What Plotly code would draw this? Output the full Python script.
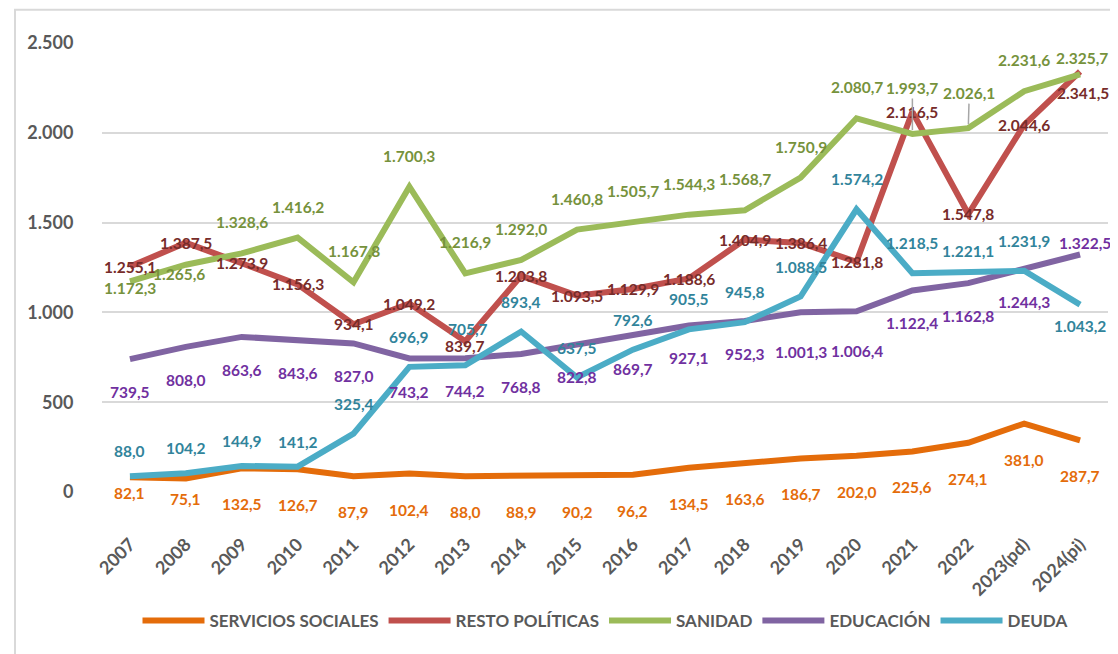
import plotly.graph_objects as go

years = ["2007", "2008", "2009", "2010", "2011", "2012", "2013", "2014", "2015",
         "2016", "2017", "2018", "2019", "2020", "2021", "2022", "2023(pd)", "2024(pi)"]

servicios_sociales = [82.1, 75.1, 132.5, 126.7, 87.9, 102.4, 88.0, 88.9, 90.2,
                      96.2, 134.5, 163.6, 186.7, 202.0, 225.6, 274.1, 381.0, 287.7]
resto_politicas = [1255.1, 1387.5, 1273.9, 1156.3, 934.1, 1049.2, 839.7, 1203.8, 1093.5,
                   1129.9, 1188.6, 1404.9, 1386.4, 1281.8, 2116.5, 1547.8, 2044.6, 2341.5]
sanidad = [1172.3, 1265.6, 1328.6, 1416.2, 1167.8, 1700.3, 1216.9, 1292.0, 1460.8,
           1505.7, 1544.3, 1568.7, 1750.9, 2080.7, 1993.7, 2026.1, 2231.6, 2325.7]
educacion = [739.5, 808.0, 863.6, 843.6, 827.0, 743.2, 744.2, 768.8, 822.8,
             869.7, 927.1, 952.3, 1001.3, 1006.4, 1122.4, 1162.8, 1244.3, 1322.5]
deuda = [88.0, 104.2, 144.9, 141.2, 325.4, 696.9, 705.7, 893.4, 637.5,
         792.6, 905.5, 945.8, 1088.5, 1574.2, 1218.5, 1221.1, 1231.9, 1043.2]

y_ticks = [0, 500, 1000, 1500, 2000, 2500]

FONT = "Lato"
GRAY = "#595959"
LABEL_SIZE = 15.5

# name, values, line colour, label colour, default (dx, dy) in screen px (dy down), exceptions, leaders
series = [
    ("SERVICIOS SOCIALES", servicios_sociales, "#E46C0A", "#E46C0A", (0, 36),
     {0: (0, 16), 1: (0, 20)}, {}),
    ("RESTO POLÍTICAS", resto_politicas, "#C0504D", "#772C2A", (0, 0),
     {6: (0, 5), 17: (3, 22)}, {}),
    ("SANIDAD", sanidad, "#9BBB59", "#76923C", (0, -31),
     {0: (0, 7), 1: (-7, 9), 17: (2, -16)}, {14: (0, -46), 15: (1, -35)}),
    ("EDUCACIÓN", educacion, "#8064A2", "#7030A0", (0, 33),
     {12: (0, 40), 13: (0, 40), 17: (5, -11)}, {}),
    ("DEUDA", deuda, "#4BACC6", "#31849B", (0, -30),
     {0: (0, -25), 1: (0, -25), 2: (0, -25), 3: (0, -25), 6: (3, -36),
      15: (0, -22), 17: (0, 21)}, {}),
]


def fmt(v):
    s = f"{v:,.1f}"
    return s.replace(",", "X").replace(".", ",").replace("X", ".")


fig = go.Figure()
annotations = []
for name, vals, lc, tc, (ddx, ddy), exc, leaders in series:
    fig.add_trace(go.Scatter(
        x=years, y=vals, mode="lines", name=name,
        line=dict(color=lc, width=6),
    ))
    for i, v in enumerate(vals):
        # category axes place annotations by category index
        if i in leaders:
            ax, ay = leaders[i]
            annotations.append(dict(
                x=i, y=v, xref="x", yref="y", text=fmt(v),
                showarrow=True, ax=ax, ay=ay, arrowhead=0, arrowwidth=1.5,
                arrowcolor="#A6A6A6", standoff=4,
                font=dict(family=FONT, size=LABEL_SIZE, color=tc, weight=700),
            ))
        else:
            dx, dy = exc.get(i, (ddx, ddy))
            annotations.append(dict(
                x=i, y=v, xref="x", yref="y", text=fmt(v), showarrow=False,
                xshift=dx, yshift=-dy,
                font=dict(family=FONT, size=LABEL_SIZE, color=tc, weight=700),
            ))

fig.update_layout(
    width=1118, height=654,
    margin=dict(l=94, r=18, t=35, b=170),
    paper_bgcolor="white", plot_bgcolor="white",
    separators=",.",
    font=dict(family=FONT, color=GRAY),
    showlegend=True,
    legend=dict(
        orientation="h", x=0.5, xanchor="center", y=-0.287, yanchor="middle",
        font=dict(family=FONT, size=17, color=GRAY, weight=700),
        itemwidth=62, tracegroupgap=0,
    ),
    annotations=annotations,
    shapes=[dict(type="rect", xref="paper", yref="paper",
                 x0=-0.0865, x1=1.03, y0=-0.45, y1=1.074,
                 line=dict(color="#D9D9D9", width=2), layer="below")],
)

fig.update_xaxes(
    type="category", categoryorder="array", categoryarray=years,
    range=[-0.5, len(years) - 0.5],
    showgrid=False, zeroline=False, showline=False,
    tickangle=-45, ticks="outside", ticklen=34, tickcolor="rgba(0,0,0,0)",
    tickfont=dict(family=FONT, size=18, color=GRAY, weight=700),
)
fig.update_yaxes(
    range=[0, 2500], tickvals=y_ticks, tickformat=",d",
    showgrid=True, gridcolor="#D9D9D9", gridwidth=1.5,
    zeroline=False, showline=False,
    ticks="outside", ticklen=24, tickcolor="rgba(0,0,0,0)",
    tickfont=dict(family=FONT, size=18, color=GRAY, weight=700),
)

fig.write_html("out.html")
